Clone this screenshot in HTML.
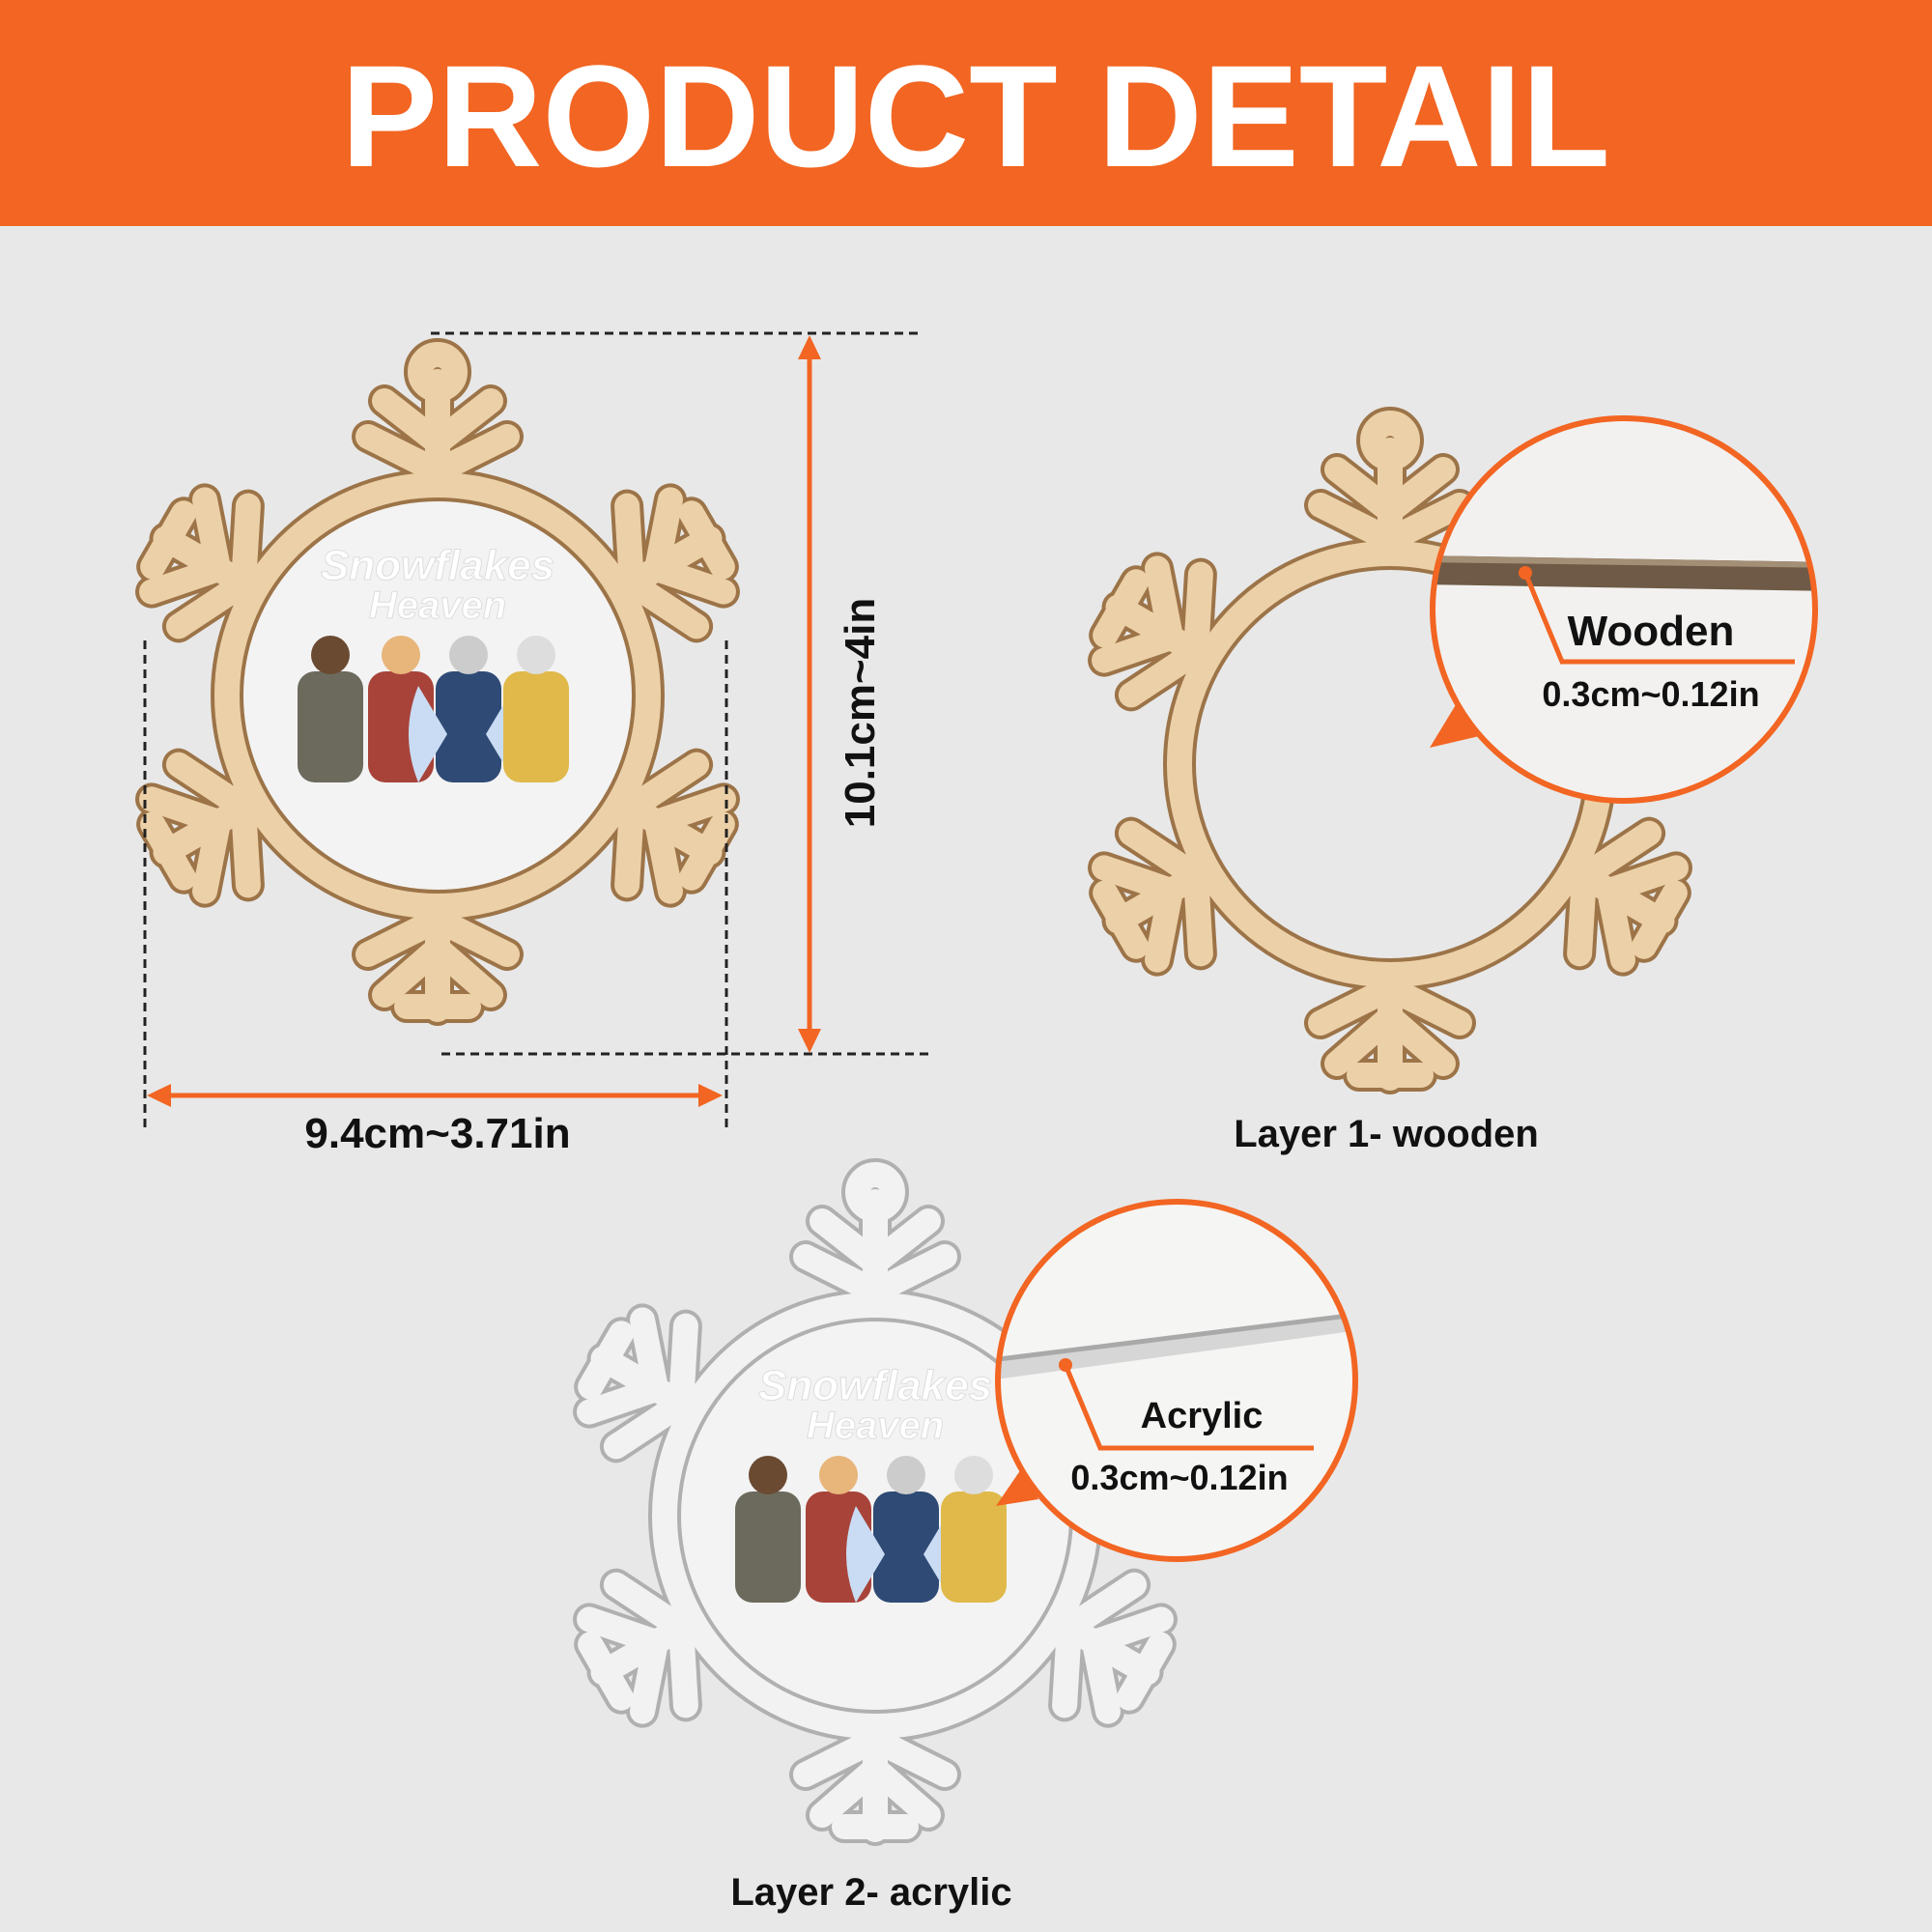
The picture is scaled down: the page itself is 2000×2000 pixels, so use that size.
<!DOCTYPE html>
<html><head><meta charset="utf-8">
<style>
html,body{margin:0;padding:0;width:2000px;height:2000px;overflow:hidden;background:#e8e8e8;}
svg{display:block}
text{font-family:"Liberation Sans",sans-serif;font-weight:bold;}
</style></head>
<body>
<svg width="2000" height="2000" viewBox="0 0 2000 2000" xmlns="http://www.w3.org/2000/svg">
<defs>
  <g id="arm">
    <path d="M0,-225 L0,-325 M0,-262 L-55,-310 M0,-262 L55,-310 M0,-232 L-72,-268 M0,-232 L72,-268 M-32,-322 L32,-322"/>
  </g>
  <g id="armtop">
    <path d="M0,-225 L0,-325 M0,-262 L-55,-305 M0,-262 L55,-305 M0,-232 L-72,-268 M0,-232 L72,-268"/>
  </g>
  <g id="shape">
    <use href="#armtop"/>
    <use href="#arm" transform="rotate(60)"/>
    <use href="#arm" transform="rotate(120)"/>
    <use href="#arm" transform="rotate(180)"/>
    <use href="#arm" transform="rotate(240)"/>
    <use href="#arm" transform="rotate(300)"/>
    <circle r="218" fill="none"/>
    <circle cx="0" cy="-335" r="18" fill="none"/>
  </g>
  <g id="woodflake">
    <g stroke="#9c7448" stroke-width="34" stroke-linecap="round" stroke-linejoin="round" fill="none"><use href="#shape"/></g>
    <g stroke="#ecd0a8" stroke-width="26" stroke-linecap="round" stroke-linejoin="round" fill="none"><use href="#shape"/></g>
  </g>
  <g id="acrflake">
    <g stroke="#b0b0b0" stroke-width="34" stroke-linecap="round" stroke-linejoin="round" fill="none"><use href="#shape"/></g>
    <g stroke="#f2f2f2" stroke-width="26" stroke-linecap="round" stroke-linejoin="round" fill="none"><use href="#shape"/></g>
  </g>
  <g id="art">
    <circle r="204" fill="#f3f3f3"/>
    <text x="0" y="-120" text-anchor="middle" font-family="Liberation Serif,serif" font-style="italic" font-weight="normal" font-size="44" fill="#fff" stroke="#ddd" stroke-width="1">Snowflakes</text>
    <text x="0" y="-80" text-anchor="middle" font-family="Liberation Serif,serif" font-style="italic" font-weight="normal" font-size="40" fill="#fff" stroke="#ddd" stroke-width="1">Heaven</text>
    <rect x="-145" y="-25" width="68" height="115" rx="18" fill="#6b6a5c"/>
    <rect x="-72" y="-25" width="68" height="115" rx="18" fill="#a8433a"/>
    <rect x="-2" y="-25" width="68" height="115" rx="18" fill="#2e4a75"/>
    <path d="M-20,-10 Q-40,40 -20,90 L10,40Z M80,-10 Q100,40 80,90 L50,40Z" fill="#c9dcf3"/>
    <rect x="68" y="-25" width="68" height="115" rx="18" fill="#e0b94a"/>
    <circle cx="-111" cy="-42" r="20" fill="#6b4a32"/>
    <circle cx="-38" cy="-42" r="20" fill="#e8b57a"/>
    <circle cx="32" cy="-42" r="20" fill="#ccc"/>
    <circle cx="102" cy="-42" r="20" fill="#ddd"/>
  </g>
  <clipPath id="c1"><circle cx="1681" cy="631" r="196"/></clipPath>
  <clipPath id="c2"><circle cx="1218" cy="1429" r="183"/></clipPath>
</defs>

<rect x="0" y="0" width="2000" height="234" fill="#f26522"/>
<text x="1010" y="172" text-anchor="middle" font-size="150" fill="#fff">PRODUCT DETAIL</text>

<g transform="translate(453,720)">
  <use href="#art"/>
  <use href="#woodflake"/>
</g>
<g stroke="#222" stroke-width="3" stroke-dasharray="9,6" fill="none">
  <line x1="446" y1="345" x2="952" y2="345"/>
  <line x1="457" y1="1091" x2="963" y2="1091"/>
  <line x1="150" y1="663" x2="150" y2="1170"/>
  <line x1="752" y1="663" x2="752" y2="1170"/>
</g>
<g stroke="#f26522" stroke-width="5" fill="#f26522">
  <line x1="838" y1="365" x2="838" y2="1072"/>
  <path d="M838,347 L826,372 L850,372Z" stroke="none"/>
  <path d="M838,1090 L826,1065 L850,1065Z" stroke="none"/>
  <line x1="170" y1="1134" x2="730" y2="1134"/>
  <path d="M152,1134 L177,1122 L177,1146Z" stroke="none"/>
  <path d="M748,1134 L723,1122 L723,1146Z" stroke="none"/>
</g>
<text transform="translate(905,738) rotate(-90)" text-anchor="middle" font-size="44" fill="#111">10.1cm~4in</text>
<text x="453" y="1188" text-anchor="middle" font-size="44" fill="#111">9.4cm~3.71in</text>

<g transform="translate(1439,791)"><use href="#woodflake"/></g>
<path d="M1480,774 L1511,723 L1540,760Z" fill="#f26522"/>
<circle cx="1681" cy="631" r="198" fill="#f2f1ef"/>
<g clip-path="url(#c1)">
  <path d="M1470,575 L1900,582 L1900,612 L1470,605Z" fill="#6e5a46"/>
  <path d="M1470,575 L1900,582 L1900,588 L1470,582Z" fill="#a38e76"/>
</g>
<circle cx="1681" cy="631" r="198" fill="none" stroke="#f26522" stroke-width="6"/>
<g stroke="#f26522" stroke-width="5" fill="none"><path d="M1579,593 L1617,685 L1858,685"/></g>
<circle cx="1579" cy="593" r="7" fill="#f26522"/>
<text x="1709" y="668" text-anchor="middle" font-size="44" fill="#111">Wooden</text>
<text x="1709" y="731" text-anchor="middle" font-size="36" fill="#111">0.3cm~0.12in</text>
<text x="1435" y="1187" text-anchor="middle" font-size="40" fill="#111">Layer 1- wooden</text>

<g transform="translate(906,1569)">
  <use href="#art"/>
  <use href="#acrflake"/>
</g>
<path d="M1031,1559 L1059,1518 L1075,1552Z" fill="#f26522"/>
<circle cx="1218" cy="1429" r="185" fill="#f5f5f3"/>
<g clip-path="url(#c2)">
  <path d="M1030,1408 L1400,1362 L1400,1378 L1030,1428Z" fill="#d6d6d6"/>
  <path d="M1030,1405 L1400,1359 L1400,1364 L1030,1410Z" fill="#a9a9a9"/>
</g>
<circle cx="1218" cy="1429" r="185" fill="none" stroke="#f26522" stroke-width="6"/>
<g stroke="#f26522" stroke-width="5" fill="none"><path d="M1103,1413 L1139,1499 L1360,1499"/></g>
<circle cx="1103" cy="1413" r="7" fill="#f26522"/>
<text x="1244" y="1478" text-anchor="middle" font-size="38" fill="#111">Acrylic</text>
<text x="1221" y="1542" text-anchor="middle" font-size="36" fill="#111">0.3cm~0.12in</text>
<text x="902" y="1972" text-anchor="middle" font-size="40" fill="#111">Layer 2- acrylic</text>
</svg>
</body></html>
